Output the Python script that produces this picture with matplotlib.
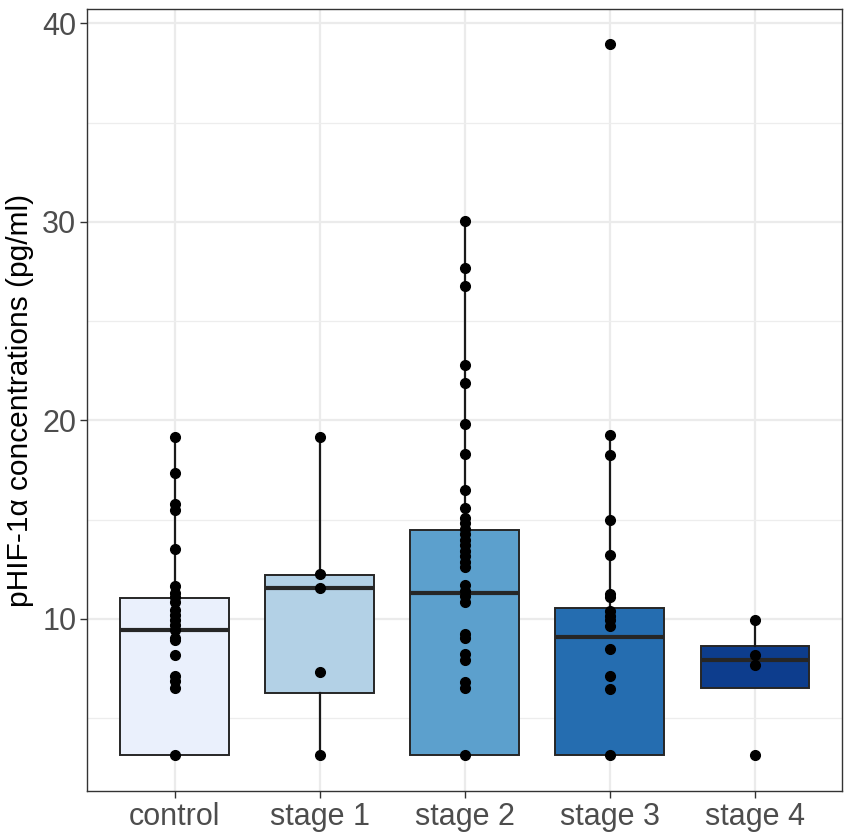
import numpy as np
import matplotlib
matplotlib.use('Agg')
import matplotlib.pyplot as plt

plt.rcParams['font.family'] = ['Liberation Sans', 'DejaVu Sans']

GROUPS = ['control', 'stage 1', 'stage 2', 'stage 3', 'stage 4']
FILLS = ['#EAF0FC', '#B3D1E6', '#5CA0CD', '#256DB0', '#0D3D8D']

# 点的数值
control = [19.16, 17.35, 15.78, 15.48, 13.5, 11.66, 11.29, 11.09, 10.87, 10.45,
           10.2, 9.95, 9.7, 9.45, 9.03, 8.94, 8.16, 7.14, 6.85, 6.52, 3.12]
stage1 = [19.16, 12.25, 11.54, 7.3, 3.12]
stage2 = [30.06, 27.65, 26.76, 22.78, 21.9, 19.8, 18.29, 16.5, 15.61, 15.07,
          14.83, 14.55, 14.27, 13.99, 13.71, 13.43, 13.15, 12.87, 12.59, 11.7,
          11.42, 11.14, 10.83, 9.24, 9.06, 8.22, 7.94, 6.82, 6.54, 3.12]
stage3 = [38.95, 19.24, 18.27, 14.97, 13.2, 11.26, 11.09, 10.42, 10.17, 9.92,
          9.66, 8.49, 7.11, 6.48, 3.12]
stage4 = [9.92, 8.19, 7.7, 3.12]
POINTS = [control, stage1, stage2, stage3, stage4]

# 箱线图统计量
WHISLO = [3.12, 3.12, 3.12, 3.12, 6.54]
Q1 = [3.12, 6.27, 3.12, 3.12, 6.54]
MED = [9.45, 11.54, 11.29, 9.08, 7.95]
Q3 = [11.07, 12.22, 14.46, 10.55, 8.62]
WHISHI = [19.16, 19.16, 30.06, 19.24, 9.92]

fig = plt.figure(figsize=(8.51, 8.39), dpi=100)
ax = fig.add_axes([0.1028, 0.0572, 0.8866, 0.9321])

stats = []
for i, g in enumerate(GROUPS):
    stats.append({'label': g, 'whislo': WHISLO[i], 'q1': Q1[i], 'med': MED[i],
                  'q3': Q3[i], 'whishi': WHISHI[i], 'fliers': []})

pos = np.arange(1, len(GROUPS) + 1)
bp = ax.bxp(stats, positions=pos, widths=0.75, patch_artist=True,
            showfliers=False, showcaps=False,
            boxprops=dict(edgecolor='#262626', linewidth=1.4),
            whiskerprops=dict(color='#1a1a1a', linewidth=1.6),
            medianprops=dict(color='#262626', linewidth=3.0, solid_capstyle='butt'))
for patch, c in zip(bp['boxes'], FILLS):
    patch.set_facecolor(c)
    patch.set_zorder(2)
for m in bp['medians']:
    m.set_zorder(3)

for i, vals in enumerate(POINTS):
    ax.plot(np.full(len(vals), pos[i]), vals, 'o', color='black',
            markersize=7.0, zorder=4, linestyle='none')

ax.set_xlim(0.4, 5.6)
ax.set_ylim(1.33, 40.72)
ax.set_xticks(pos)
ax.set_xticklabels(GROUPS)
ax.set_yticks([10, 20, 30, 40])
ax.set_yticks([5, 15, 25, 35], minor=True)
ax.grid(which='major', color='#EBEBEB', linewidth=1.6, zorder=0)
ax.grid(which='minor', axis='y', color='#EDEDED', linewidth=0.9, zorder=0)
ax.set_axisbelow(True)
ax.tick_params(axis='both', which='major', labelsize=22, labelcolor='#4D4D4D',
               color='#333333', length=5, width=1.0, pad=3)
ax.tick_params(axis='y', which='minor', length=0)
for s in ax.spines.values():
    s.set_color('#333333')
    s.set_linewidth(1.0)
ax.set_ylabel('pHIF-1α concentrations (pg/ml)', fontsize=21.5, color='black', labelpad=6)

fig.savefig('out.png', dpi=100)
